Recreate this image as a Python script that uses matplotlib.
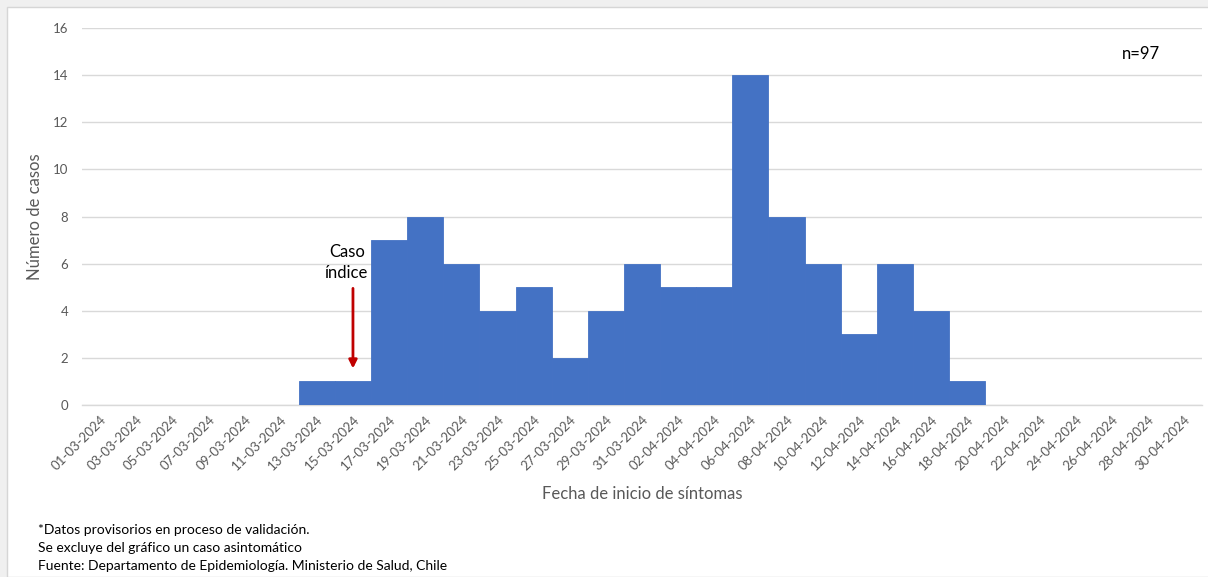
import matplotlib.pyplot as plt
from matplotlib.patches import Rectangle

# Data: cases per 2-day bin (fecha de inicio de sintomas)
fechas = ['01-03-2024', '03-03-2024', '05-03-2024', '07-03-2024', '09-03-2024',
          '11-03-2024', '13-03-2024', '15-03-2024', '17-03-2024', '19-03-2024',
          '21-03-2024', '23-03-2024', '25-03-2024', '27-03-2024', '29-03-2024',
          '31-03-2024', '02-04-2024', '04-04-2024', '06-04-2024', '08-04-2024',
          '10-04-2024', '12-04-2024', '14-04-2024', '16-04-2024', '18-04-2024',
          '20-04-2024', '22-04-2024', '24-04-2024', '26-04-2024', '28-04-2024',
          '30-04-2024']
casos = [0, 0, 0, 0, 0, 0, 1, 1, 7, 8, 6, 4, 5, 2, 4, 6, 5, 5, 14, 8, 6, 3, 6, 4, 1,
         0, 0, 0, 0, 0, 0]
caso_indice = '15-03-2024'
notas = ['*Datos provisorios en proceso de validación.',
         'Se excluye del gráfico un caso asintomático',
         'Fuente: Departamento de Epidemiología. Ministerio de Salud, Chile']

plt.rcParams['font.family'] = ['Lato', 'DejaVu Sans']

W, H = 1208, 577
fig = plt.figure(figsize=(W / 100, H / 100), dpi=100, facecolor='#F0F0F0')
# white chart area with thin border
fig.patches.append(Rectangle((7 / W, 0), 1, 1 - 7 / H, transform=fig.transFigure,
                             facecolor='white', edgecolor='#D6D6D6', lw=1, zorder=-10))

ax = fig.add_axes([82 / W, 1 - 405 / H, (1202 - 82) / W, (405 - 28) / H])
ax.set_facecolor('white')

x = list(range(len(fechas)))
ax.bar(x, casos, width=1.0, color='#4472C4', edgecolor='#4472C4', linewidth=0.6, zorder=3)

ax.set_xlim(-0.5, len(fechas) - 0.5)
ax.set_ylim(0, 16)
ax.set_yticks(range(0, 17, 2))
ax.set_xticks(x)
ax.set_xticklabels(fechas, rotation=45, ha='right', rotation_mode='anchor')
ax.tick_params(axis='both', length=0, labelsize=9.5, colors='#595959')
ax.tick_params(axis='x', pad=6)
ax.tick_params(axis='y', pad=10)

ax.grid(axis='y', color='#D9D9D9', lw=1, zorder=0)
for s in ['top', 'right', 'left']:
    ax.spines[s].set_visible(False)
ax.spines['bottom'].set_color('#D9D9D9')
ax.spines['bottom'].set_linewidth(1)

ax.set_ylabel('Número de casos', fontsize=12, color='#595959', labelpad=7)
ax.set_xlabel('Fecha de inicio de síntomas', fontsize=12, color='#595959', labelpad=10)

# index case annotation
xi = fechas.index(caso_indice)
ax.annotate('', xy=(xi, 1.55), xytext=(xi, 4.95),
            arrowprops=dict(arrowstyle='-|>', color='#C00000', lw=2, mutation_scale=12,
                            shrinkA=0, shrinkB=0), zorder=5)
ax.text(xi - 0.17, 6.05, 'Caso\níndice', ha='center', va='center', fontsize=12,
        color='black', linespacing=1.4, zorder=5)

ax.text(0.9455, 0.932, 'n=97', transform=ax.transAxes, ha='center', va='center',
        fontsize=12, color='black')

for i, t in enumerate(notas):
    fig.text(38 / W, 1 - (530 + 18 * i) / H, t, ha='left', va='center',
             fontsize=10, color='black')

fig.savefig('out.png', dpi=100, facecolor=fig.get_facecolor())
